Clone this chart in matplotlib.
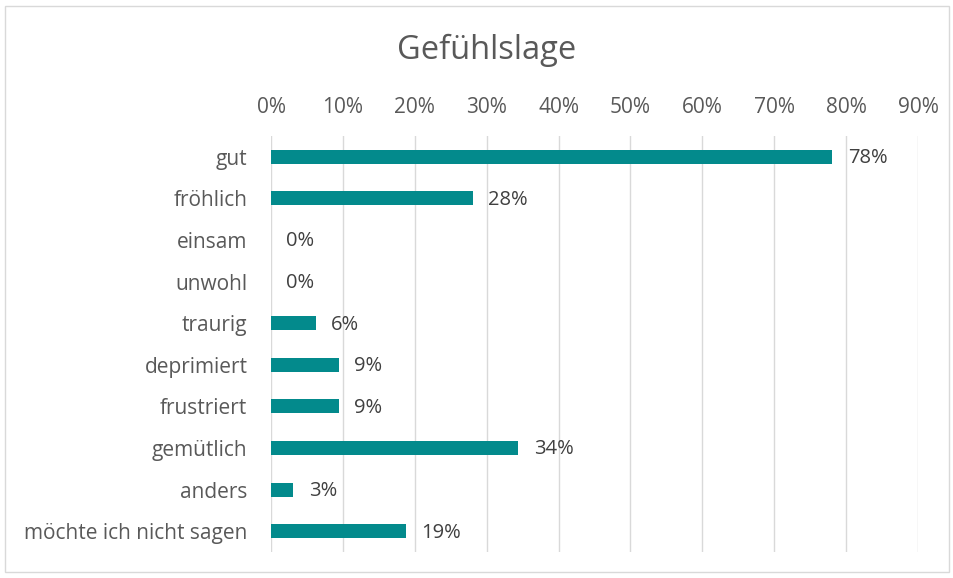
import matplotlib
matplotlib.use("Agg")
import matplotlib.pyplot as plt
from matplotlib.patches import Rectangle

categories = ["gut", "fröhlich", "einsam", "unwohl", "traurig", "deprimiert",
              "frustriert", "gemütlich", "anders", "möchte ich nicht sagen"]
values = [0.781, 0.281, 0.0, 0.0, 0.0625, 0.094, 0.094, 0.344, 0.031, 0.1875]
xticks = [0, 0.1, 0.2, 0.3, 0.4, 0.5, 0.6, 0.7, 0.8, 0.9]
title = "Gefühlslage"

plt.rcParams['font.family'] = ['Open Sans', 'DejaVu Sans']
grey = "#595959"
teal = "#038A8C"

fig = plt.figure(figsize=(9.54, 5.78), dpi=100)
fig.patches.append(Rectangle((5/954, 6/578), 944/954, 566/578, transform=fig.transFigure,
                             fill=False, edgecolor="#D9D9D9", linewidth=1))
ax = fig.add_axes([271/954, 1-552/578, 647/954, 416/578])
y = list(range(len(categories)))
ax.barh(y, values, height=0.34, color=teal, zorder=3)
for yi, v in zip(y, values):
    ax.annotate(f"{round(v*100):.0f}%", (v, yi), xytext=(11, -1), textcoords="offset points",
                va="center", ha="left", fontsize=14.5, color="#404040")
ax.set_yticks(y)
ax.set_yticklabels(categories, fontsize=15, color=grey)
ax.set_ylim(len(categories)-0.5, -0.5)
ax.set_xlim(0, 0.9)
ax.set_xticks(xticks)
ax.set_xticklabels([f"{int(round(t*100))}%" for t in xticks], fontsize=15, color=grey)
ax.xaxis.tick_top()
ax.tick_params(axis="both", length=0)
ax.tick_params(axis="x", pad=13)
ax.tick_params(axis="y", pad=17)
ax.grid(axis="x", color="#D9D9D9", linewidth=1, zorder=0)
for s in ax.spines.values():
    s.set_visible(False)
fig.text(487/954, 1-50/578, title, ha="center", va="center", fontsize=23.5, color=grey)
fig.savefig("out.png", dpi=100)
